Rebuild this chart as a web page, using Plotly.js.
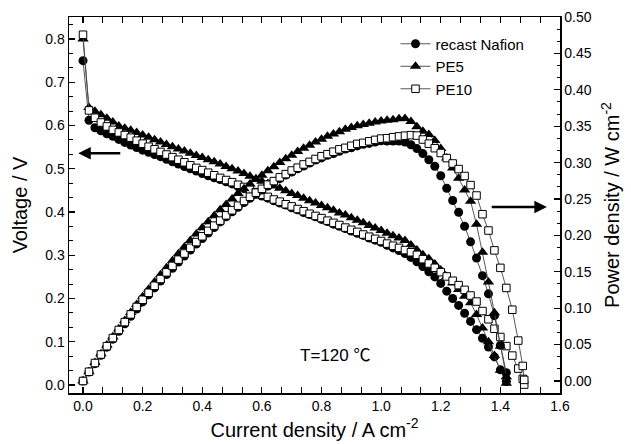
<!DOCTYPE html>
<html>
<head>
<meta charset="utf-8">
<script src="https://cdn.plot.ly/plotly-3.0.1.min.js"></script>
<style>html,body{margin:0;padding:0;background:#fff;}#chart{width:631px;height:444px;}</style>
</head>
<body>
<div id="chart"></div>
<script>
// ---- Data ----
const seriesNames = ["recast Nafion", "PE5", "PE10"];

const currentNafion = [0.00,0.02,0.04,0.06,0.08,0.10,0.12,0.14,0.16,0.18,0.20,0.22,0.24,0.26,0.28,0.30,0.32,0.34,0.36,0.38,0.40,0.42,0.44,0.46,0.48,0.50,0.52,0.54,0.56,0.58,0.60,0.62,0.64,0.66,0.68,0.70,0.72,0.74,0.76,0.78,0.80,0.82,0.84,0.86,0.88,0.90,0.92,0.94,0.96,0.98,1.00,1.02,1.04,1.06,1.08,1.10,1.12,1.14,1.16,1.18,1.20,1.22,1.24,1.26,1.28,1.30,1.32,1.34,1.36,1.38,1.40,1.42];
const voltageNafion = [0.750,0.612,0.595,0.588,0.581,0.575,0.568,0.561,0.555,0.549,0.543,0.538,0.533,0.528,0.522,0.516,0.511,0.505,0.500,0.495,0.489,0.484,0.479,0.475,0.470,0.465,0.459,0.454,0.448,0.442,0.437,0.432,0.426,0.421,0.416,0.410,0.405,0.399,0.394,0.389,0.383,0.378,0.372,0.367,0.362,0.356,0.351,0.346,0.340,0.335,0.330,0.323,0.317,0.311,0.304,0.295,0.285,0.274,0.262,0.250,0.235,0.217,0.200,0.184,0.166,0.147,0.128,0.108,0.088,0.065,0.035,0.008];
const powerNafion = [0.0000,0.0122,0.0238,0.0353,0.0465,0.0575,0.0682,0.0785,0.0888,0.0988,0.1086,0.1184,0.1279,0.1373,0.1462,0.1548,0.1635,0.1717,0.1800,0.1881,0.1956,0.2033,0.2108,0.2185,0.2256,0.2325,0.2387,0.2452,0.2509,0.2564,0.2622,0.2678,0.2726,0.2779,0.2829,0.2870,0.2916,0.2953,0.2994,0.3034,0.3064,0.3100,0.3125,0.3156,0.3186,0.3204,0.3229,0.3252,0.3264,0.3283,0.3300,0.3295,0.3297,0.3297,0.3283,0.3245,0.3192,0.3124,0.3039,0.2950,0.2820,0.2647,0.2480,0.2318,0.2125,0.1911,0.1690,0.1447,0.1197,0.0897,0.0490,0.0114];

const currentPE5 = [0.00,0.02,0.04,0.06,0.08,0.10,0.12,0.14,0.16,0.18,0.20,0.22,0.24,0.26,0.28,0.30,0.32,0.34,0.36,0.38,0.40,0.42,0.44,0.46,0.48,0.50,0.52,0.54,0.56,0.58,0.60,0.62,0.64,0.66,0.68,0.70,0.72,0.74,0.76,0.78,0.80,0.82,0.84,0.86,0.88,0.90,0.92,0.94,0.96,0.98,1.00,1.02,1.04,1.06,1.08,1.10,1.12,1.14,1.16,1.18,1.20,1.22,1.24,1.26,1.28,1.30,1.32,1.34,1.36,1.38,1.40,1.42];
const voltagePE5 = [0.800,0.642,0.633,0.625,0.617,0.608,0.599,0.594,0.589,0.584,0.578,0.573,0.567,0.562,0.556,0.551,0.546,0.541,0.536,0.531,0.526,0.521,0.516,0.511,0.505,0.500,0.495,0.489,0.483,0.477,0.471,0.466,0.460,0.455,0.449,0.443,0.438,0.432,0.426,0.421,0.415,0.410,0.404,0.398,0.393,0.387,0.381,0.375,0.369,0.363,0.357,0.351,0.345,0.340,0.334,0.324,0.312,0.301,0.292,0.280,0.266,0.251,0.236,0.221,0.205,0.190,0.163,0.132,0.100,0.068,0.034,0.004];
const powerPE5 = [0.0000,0.0128,0.0253,0.0375,0.0494,0.0608,0.0719,0.0832,0.0942,0.1051,0.1156,0.1261,0.1361,0.1461,0.1557,0.1653,0.1747,0.1839,0.1930,0.2018,0.2104,0.2188,0.2270,0.2351,0.2424,0.2500,0.2574,0.2641,0.2705,0.2767,0.2826,0.2889,0.2944,0.3003,0.3053,0.3101,0.3154,0.3197,0.3238,0.3284,0.3320,0.3362,0.3394,0.3423,0.3458,0.3483,0.3505,0.3525,0.3542,0.3557,0.3570,0.3580,0.3588,0.3604,0.3607,0.3564,0.3494,0.3431,0.3387,0.3304,0.3192,0.3062,0.2926,0.2785,0.2624,0.2470,0.2152,0.1769,0.1360,0.0938,0.0476,0.0057];

const currentPE10 = [0.00,0.02,0.04,0.06,0.08,0.10,0.12,0.14,0.16,0.18,0.20,0.22,0.24,0.26,0.28,0.30,0.32,0.34,0.36,0.38,0.40,0.42,0.44,0.46,0.48,0.50,0.52,0.54,0.56,0.58,0.60,0.62,0.64,0.66,0.68,0.70,0.72,0.74,0.76,0.78,0.80,0.82,0.84,0.86,0.88,0.90,0.92,0.94,0.96,0.98,1.00,1.02,1.04,1.06,1.08,1.10,1.12,1.14,1.16,1.18,1.20,1.22,1.24,1.26,1.28,1.30,1.32,1.34,1.36,1.38,1.40,1.42,1.44,1.46,1.475,1.48];
const voltagePE10 = [0.810,0.635,0.618,0.607,0.598,0.590,0.584,0.578,0.572,0.565,0.558,0.551,0.545,0.539,0.533,0.527,0.521,0.515,0.508,0.502,0.497,0.491,0.485,0.479,0.474,0.469,0.463,0.458,0.452,0.446,0.440,0.435,0.429,0.424,0.418,0.413,0.407,0.402,0.396,0.391,0.386,0.380,0.375,0.370,0.364,0.359,0.354,0.348,0.343,0.338,0.333,0.327,0.322,0.317,0.312,0.307,0.301,0.291,0.281,0.271,0.261,0.251,0.241,0.231,0.220,0.207,0.193,0.171,0.152,0.130,0.111,0.090,0.068,0.038,0.014,0.001];
const powerPE10 = [0.0000,0.0127,0.0247,0.0364,0.0478,0.0590,0.0701,0.0809,0.0915,0.1017,0.1116,0.1212,0.1308,0.1401,0.1492,0.1581,0.1667,0.1751,0.1829,0.1908,0.1988,0.2062,0.2134,0.2203,0.2275,0.2345,0.2408,0.2473,0.2531,0.2587,0.2640,0.2697,0.2746,0.2798,0.2842,0.2891,0.2930,0.2975,0.3010,0.3050,0.3088,0.3116,0.3150,0.3182,0.3203,0.3231,0.3257,0.3271,0.3293,0.3312,0.3330,0.3335,0.3349,0.3360,0.3370,0.3377,0.3371,0.3317,0.3260,0.3198,0.3132,0.3062,0.2988,0.2911,0.2816,0.2691,0.2548,0.2291,0.2067,0.1794,0.1554,0.1278,0.0979,0.0555,0.0207,0.0015];

const xTickVals = [0.0,0.2,0.4,0.6,0.8,1.0,1.2,1.4,1.6];
const xTickText = ["0.0","0.2","0.4","0.6","0.8","1.0","1.2","1.4","1.6"];
const yTickVals = [0.0,0.1,0.2,0.3,0.4,0.5,0.6,0.7,0.8];
const yTickText = ["0.0","0.1","0.2","0.3","0.4","0.5","0.6","0.7","0.8"];
const y2TickVals = [0.00,0.05,0.10,0.15,0.20,0.25,0.30,0.35,0.40,0.45,0.50];
const y2TickText = ["0.00","0.05","0.10","0.15","0.20","0.25","0.30","0.35","0.40","0.45","0.50"];

const tempLabel = "T=120 \u2103";

// ---- Styles ----
const FONT = "Liberation Sans, Arial, Helvetica, sans-serif";
const markerStyles = [
  {symbol: "circle", size: 9, color: "#000", line: {color: "#000", width: 0}},
  {symbol: "triangle-up", size: 10, color: "#000", line: {color: "#000", width: 0}},
  {symbol: "square", size: 7.5, color: "#fff", line: {color: "#000", width: 1}}
];
const lineStyle = {color: "#444", width: 0.9};

const currents = [currentNafion, currentPE5, currentPE10];
const voltages = [voltageNafion, voltagePE5, voltagePE10];
const powers = [powerNafion, powerPE5, powerPE10];

const traces = [];
for (let i = 0; i < 3; i++) {
  traces.push({
    x: currents[i], y: voltages[i], type: "scatter", mode: "lines+markers",
    name: seriesNames[i], xaxis: "x", yaxis: "y",
    line: lineStyle, marker: markerStyles[i], showlegend: true, legendrank: i + 1
  });
}
for (let i = 0; i < 3; i++) {
  traces.push({
    x: currents[i], y: powers[i], type: "scatter", mode: "lines+markers",
    name: seriesNames[i] + " power", xaxis: "x", yaxis: "y2",
    line: lineStyle, marker: markerStyles[i], showlegend: false
  });
}

const tickFont = {family: FONT, size: 14, color: "#000"};
const titleFont = {family: FONT, size: 20, color: "#000"};

const layout = {
  width: 631, height: 444,
  margin: {l: 69, r: 71, t: 17, b: 51, pad: 0},
  paper_bgcolor: "#fff", plot_bgcolor: "#fff",
  font: {family: FONT, color: "#000"},
  showlegend: true,
  legend: {
    x: 0.665, y: 0.972, xanchor: "left", yanchor: "top",
    bgcolor: "rgba(0,0,0,0)", borderwidth: 0,
    font: {family: FONT, size: 15, color: "#000"},
    tracegroupgap: 0, itemsizing: "trace"
  },
  xaxis: {
    range: [-0.047, 1.6], showgrid: false, zeroline: false,
    showline: true, linecolor: "#000", linewidth: 1.5, mirror: "allticks",
    ticks: "inside", ticklen: 6, tickwidth: 1.2, tickcolor: "#000",
    tickmode: "array", tickvals: xTickVals, ticktext: xTickText,
    tickfont: tickFont,
    minor: {dtick: 0.2 / 3, tick0: 0, ticks: "inside", ticklen: 3.5, tickwidth: 1, tickcolor: "#000"},
    title: {text: "Current density / A cm<sup>-2</sup>", font: titleFont, standoff: 9}
  },
  yaxis: {
    range: [-0.0185, 0.851], showgrid: false, zeroline: false,
    showline: true, linecolor: "#000", linewidth: 1.5,
    ticks: "inside", ticklen: 6, tickwidth: 1.2, tickcolor: "#000",
    tickmode: "array", tickvals: yTickVals, ticktext: yTickText,
    tickfont: tickFont,
    minor: {dtick: 0.1 / 3, tick0: 0, ticks: "inside", ticklen: 3.5, tickwidth: 1, tickcolor: "#000"},
    title: {text: "Voltage / V", font: titleFont, standoff: 12}
  },
  yaxis2: {
    overlaying: "y", side: "right", anchor: "x",
    range: [-0.0165, 0.5], showgrid: false, zeroline: false,
    showline: true, linecolor: "#000", linewidth: 1.5,
    ticks: "inside", ticklen: 6, tickwidth: 1.2, tickcolor: "#000",
    tickmode: "array", tickvals: y2TickVals, ticktext: y2TickText,
    tickfont: tickFont,
    minor: {dtick: 0.05 / 3, tick0: 0, ticks: "inside", ticklen: 3.5, tickwidth: 1, tickcolor: "#000"},
    title: {text: "Power density / W cm<sup>-2</sup>", font: titleFont, standoff: 14}
  },
  annotations: [
    {xref: "x", yref: "y", x: -0.016, y: 0.536, axref: "x", ayref: "y", ax: 0.13, ay: 0.536,
     text: "", showarrow: true, arrowhead: 2, arrowsize: 1, arrowwidth: 2.5, arrowcolor: "#000"},
    {xref: "x", yref: "y2", x: 1.556, y: 0.239, axref: "x", ayref: "y2", ax: 1.366, ay: 0.239,
     text: "", showarrow: true, arrowhead: 2, arrowsize: 1, arrowwidth: 2.5, arrowcolor: "#000"},
    {xref: "x", yref: "y", x: 0.845, y: 0.069, text: tempLabel, showarrow: false,
     font: {family: "Liberation Sans, Noto Sans CJK SC, sans-serif", size: 17, color: "#000"},
     xanchor: "center", yanchor: "middle"}
  ]
};

Plotly.newPlot("chart", traces, layout, {staticPlot: true, displayModeBar: false});
</script>
</body>
</html>
